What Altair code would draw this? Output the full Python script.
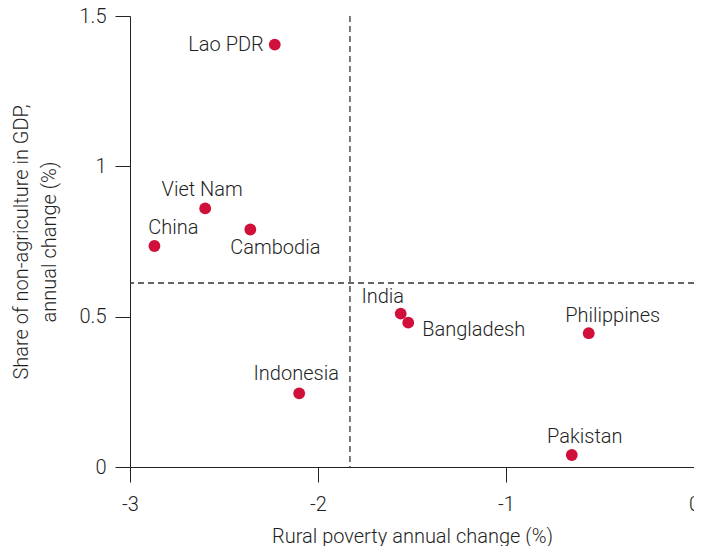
import altair as alt
import pandas as pd

countries = ["Lao PDR", "Viet Nam", "Cambodia", "China", "India", "Bangladesh",
             "Philippines", "Indonesia", "Pakistan"]
poverty_change = [-2.23, -2.60, -2.36, -2.87, -1.56, -1.52, -0.56, -2.10, -0.65]
nonag_change = [1.405, 0.86, 0.79, 0.735, 0.51, 0.48, 0.445, 0.245, 0.04]
mean_x = [-1.83]
mean_y = [0.612]

x_ticks = [-3, -2, -1, 0]
y_ticks = [0, 0.5, 1, 1.5]

# label placement (style): align, dx, dy
label_style = {
    "Lao PDR": ("right", -11, 0),
    "Viet Nam": ("center", -3, -18),
    "Cambodia": ("center", 25, 19),
    "China": ("center", 19, -18),
    "India": ("center", -18, -17),
    "Bangladesh": ("left", 14, 7),
    "Philippines": ("center", 24, -17),
    "Indonesia": ("center", -3, -19),
    "Pakistan": ("center", 13, -18),
}

df = pd.DataFrame({"country": countries, "x": poverty_change, "y": nonag_change})
vdf = pd.DataFrame({"x": mean_x})
hdf = pd.DataFrame({"y": mean_y})

FONT = "Roboto"
FW = 300
FS = 20
TXT = "#1f1f1f"

xs = alt.Scale(domain=[-3, 0], nice=False, zero=False)
ys = alt.Scale(domain=[0, 1.5], nice=False, zero=False)

x_axis = alt.Axis(values=x_ticks, grid=False, tickSize=15, labelPadding=12,
                  labelExpr="toString(datum.value)",
                  title="Rural poverty annual change (%)", titlePadding=12,
                  labelFontSize=FS, titleFontSize=FS, labelColor=TXT, titleColor=TXT,
                  labelFont=FONT, titleFont=FONT, titleFontWeight=FW, labelFontWeight=FW,
                  domainColor="#222222", tickColor="#222222", labelFlush=False)
y_axis = alt.Axis(values=y_ticks, grid=False, tickSize=15, labelPadding=9,
                  labelExpr="toString(datum.value)",
                  title=["Share of non-agriculture in GDP,", "annual change (%)"],
                  titlePadding=20, titleLineHeight=28,
                  labelFontSize=FS, titleFontSize=FS, labelColor=TXT, titleColor=TXT,
                  labelFont=FONT, titleFont=FONT, titleFontWeight=FW, labelFontWeight=FW,
                  domainColor="#222222", tickColor="#222222", labelFlush=False)

vline = alt.Chart(vdf).mark_rule(strokeDash=[6, 4], color="#333333", strokeWidth=1.3).encode(
    x=alt.X("x:Q", scale=xs, axis=x_axis))
hline = alt.Chart(hdf).mark_rule(strokeDash=[6, 4], color="#333333", strokeWidth=1.3).encode(
    y=alt.Y("y:Q", scale=ys, axis=y_axis))

pts = alt.Chart(df).mark_circle(size=140, color="#d0103a", opacity=1).encode(
    x=alt.X("x:Q", scale=xs, axis=x_axis),
    y=alt.Y("y:Q", scale=ys, axis=y_axis))

layers = [vline, hline, pts]
for c in countries:
    al, dx, dy = label_style[c]
    t = alt.Chart(df).transform_filter(alt.datum.country == c).mark_text(
        align=al, baseline="middle", dx=dx, dy=dy, fontSize=FS, font=FONT,
        fontWeight=FW, color=TXT
    ).encode(x=alt.X("x:Q", scale=xs), y=alt.Y("y:Q", scale=ys), text="country:N")
    layers.append(t)

chart = alt.layer(*layers).properties(
    width=564, height=451,
    autosize=alt.AutoSizeParams(type="none"),
    padding={"left": 122, "top": 8, "right": 0, "bottom": 79},
).configure_view(stroke=None)

chart.save("out.html", embed_options={"renderer": "svg", "actions": False})
